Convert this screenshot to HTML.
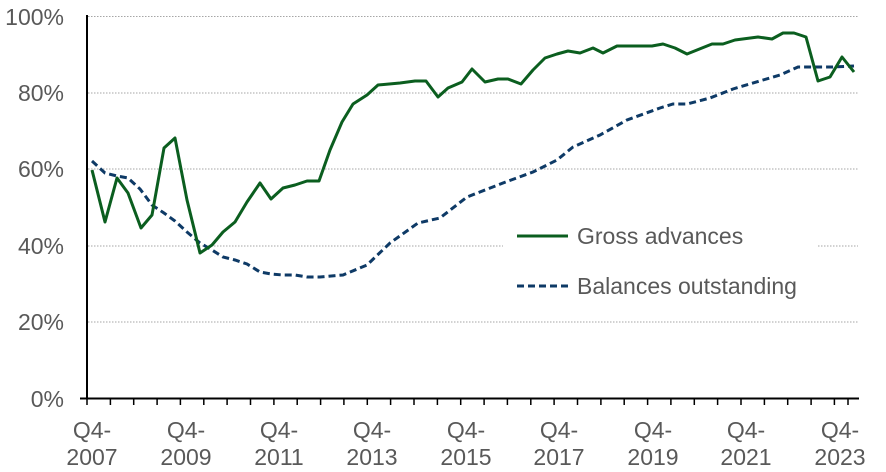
<!DOCTYPE html><html><head><style>body{margin:0;background:#fff}svg{display:block}text{font-family:"Liberation Sans",Arial,sans-serif;fill:#595959;font-size:23px}</style></head><body>
<svg width="886" height="472" viewBox="0 0 886 472">
<g stroke="#a6a6a6" stroke-width="1" stroke-dasharray="1.5,1.5">
<line x1="88" y1="16.5" x2="858" y2="16.5"/><line x1="88" y1="93" x2="858" y2="93"/><line x1="88" y1="169" x2="858" y2="169"/>
<line x1="88" y1="246" x2="503" y2="246"/><line x1="818" y1="246" x2="858" y2="246"/><line x1="88" y1="322" x2="858" y2="322"/></g>
<g text-anchor="end"><text x="64" y="25">100%</text><text x="64" y="101">80%</text><text x="64" y="177">60%</text><text x="64" y="254">40%</text><text x="64" y="330">20%</text><text x="64" y="407">0%</text></g>
<polyline fill="none" stroke="#0e3a66" stroke-width="3" stroke-dasharray="7,4" points="92,161 105,173 117,176 128,178 140,189 152,205 164,213 175,221 187,232 200,243 212,250 223,257 235,260 247,264 260,272 271,274 283,275 295,275 307,277 320,277 343,275 367,265 390,243 418,223 440,218 467,197 503,183 533,172 557,160 573,147 600,135 627,120 660,108 673,104 687,104 710,98 733,89 763,80 780,75 798,67 813,67 833,67 854,66"/>
<polyline fill="none" stroke="#0b5e1f" stroke-width="3" stroke-linejoin="round" points="92,170 105,222 117,178 128,193 141,228 152,215 164,148 175,138 187,200 200,253 212,245 223,232 235,222 247,202 260,183 271,199 283,188 295,185 307,181 319,181 330,150 342,122 353,104 367,95 378,85 400,83 415,81 426,81 438,97 448,88 462,82 472,69 485,82 498,79 508,79 521,84 533,70 545,58 557,54 568,51 580,53 593,48 603,53 617,46 652,46 663,44 675,48 687,54 712,44 723,44 735,40 758,37 772,39 783,33 794,33 806,37 818,81 830,77 842,57 854,72"/>
<line x1="87" y1="15" x2="87" y2="399" stroke="#000" stroke-width="2"/>
<line x1="80" y1="398.5" x2="859" y2="398.5" stroke="#000" stroke-width="2"/>
<line x1="517" y1="236" x2="568" y2="236" stroke="#0b5e1f" stroke-width="3"/>
<text x="577" y="244">Gross advances</text>
<line x1="517" y1="286" x2="568" y2="286" stroke="#0e3a66" stroke-width="3" stroke-dasharray="7,4"/>
<text x="577" y="294">Balances outstanding</text>
<g text-anchor="middle">
<text x="92" y="438">Q4-</text><text x="92" y="465">2007</text>
<text x="186" y="438">Q4-</text><text x="186" y="465">2009</text>
<text x="279" y="438">Q4-</text><text x="279" y="465">2011</text>
<text x="372" y="438">Q4-</text><text x="372" y="465">2013</text>
<text x="466" y="438">Q4-</text><text x="466" y="465">2015</text>
<text x="559" y="438">Q4-</text><text x="559" y="465">2017</text>
<text x="653" y="438">Q4-</text><text x="653" y="465">2019</text>
<text x="746" y="438">Q4-</text><text x="746" y="465">2021</text>
<text x="840" y="438">Q4-</text><text x="840" y="465">2023</text>
</g>
<path stroke="#000" stroke-width="1.5" d="M87,399v6M110.4,399v6M133.7,399v6M157.1,399v6M180.4,399v6M203.8,399v6M227.1,399v6M250.5,399v6M273.9,399v6M297.2,399v6M320.6,399v6M343.9,399v6M367.3,399v6M390.6,399v6M414,399v6M437.4,399v6M460.7,399v6M484.1,399v6M507.4,399v6M530.8,399v6M554.1,399v6M577.5,399v6M600.9,399v6M624.2,399v6M647.6,399v6M670.9,399v6M694.3,399v6M717.6,399v6M741,399v6M764.4,399v6M787.7,399v6M811.1,399v6M834.4,399v6M848,399v6"/>
</svg></body></html>
